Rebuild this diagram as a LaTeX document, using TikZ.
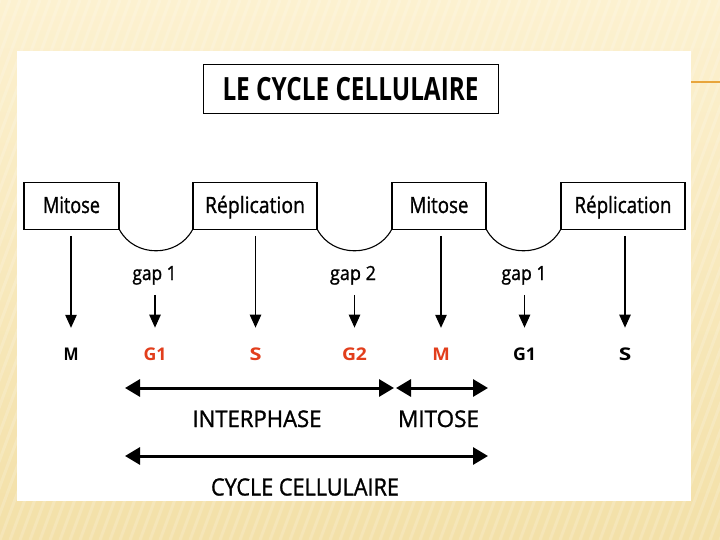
\documentclass[tikz,border=0pt]{standalone}
\usepackage{fontspec}
\setmainfont{Open Sans}
\newfontfamily\comicfont[FakeBold=1.2]{Open Sans}
\usepackage{graphicx}
\usetikzlibrary{arrows.meta}
\definecolor{bgtop}{RGB}{252,241,208}
\definecolor{bgbot}{RGB}{243,224,168}
\definecolor{phase}{RGB}{226,62,28}
\definecolor{accent}{RGB}{232,165,60}
\newcommand\fw[2]{\resizebox{#1pt}{\height}{#2}}
\begin{document}
\begin{tikzpicture}[x=1pt,y=-1pt,
  titlebox/.style={draw,line width=1pt,inner sep=0pt,minimum width=295pt,minimum height=49pt,
    text height=23pt,text depth=0pt,font=\fontsize{32}{32}\selectfont\bfseries},
  cellbox/.style={draw,line width=1.1pt,inner sep=0pt,minimum height=47pt,
    text height=16.5pt,text depth=2pt,font=\comicfont\fontsize{22.4}{22.4}\selectfont},
  gaplab/.style={inner sep=0pt,anchor=base,font=\comicfont\fontsize{19.5}{19.5}\selectfont},
  phaselab/.style={inner sep=0pt,anchor=base,font=\fontsize{17.5}{17.5}\selectfont\bfseries},
  redlab/.style={phaselab,text=phase},
  spanlab/.style={inner sep=0pt,anchor=base,font=\comicfont\fontsize{23}{23}\selectfont},
  dip/.style={line width=1.1pt},
  varrow/.style={line width=1.1pt,-{Triangle[width=11.5pt,length=13pt]},shorten >=19.5pt},
  harrow/.style={line width=3pt,{Triangle[width=17pt,length=15pt]}-{Triangle[width=17pt,length=15pt]}}
]
\useasboundingbox (0,0) rectangle (720,540);
% background
\shade[top color=bgtop,bottom color=bgbot] (0,0) rectangle (720,540);
\begin{scope}
  \clip (0,0) rectangle (720,540);
  \foreach \i in {-300,-290,...,720}
    \draw[white,opacity=0.18,line width=3pt] (\i,540) -- (\i+200,0);
\end{scope}
\fill[white] (17,51) rectangle (691,501);
\draw[accent,line width=2pt] (691,82.5) -- (720,82.5);

% title
\node[titlebox] (title) at (350.5,89.5) {\fw{256}{LE CYCLE CELLULAIRE}};

% top boxes
\node[cellbox,minimum width=95pt] (m1) at (71.5,205.75) {\fw{57}{Mitose}};
\node[cellbox,minimum width=124pt] (r1) at (255,205.75) {\fw{100}{Réplication}};
\node[cellbox,minimum width=94pt] (m2) at (439,205.75) {\fw{59}{Mitose}};
\node[cellbox,minimum width=124pt] (r2) at (623,205.75) {\fw{97}{Réplication}};

\draw[dip] (m1.south east) .. controls +(15,28) and +(-15,28) .. (r1.south west);
\draw[dip] (r1.south east) .. controls +(15,28) and +(-15,28) .. (m2.south west);
\draw[dip] (m2.south east) .. controls +(15,28) and +(-15,28) .. (r2.south west);

% gap labels
\node[gaplab] (gap1) at (154.5,280) {\fw{44}{gap 1}};
\node[gaplab] (gap2) at (353,280) {\fw{46}{gap 2}};
\node[gaplab] (gap3) at (524,280) {\fw{45}{gap 1}};

% phase labels
\node[phaselab] (pM1) at (71,360) {\fw{15}{M}};
\node[redlab]   (pG1) at (155,360) {\fw{23}{G1}};
\node[redlab]   (pS1) at (255.5,360) {\fw{12}{S}};
\node[redlab]   (pG2) at (354.5,360) {\fw{25}{G2}};
\node[redlab]   (pM2) at (441,360) {\fw{17.5}{M}};
\node[phaselab] (pG3) at (524.5,360) {\fw{23}{G1}};
\node[phaselab] (pS2) at (625,360) {\fw{12.5}{S}};

% vertical arrows
\draw[varrow,shorten <=6pt] (pM1 |- m1.south) -- (pM1.north);
\draw[varrow,shorten <=6pt] (pS1 |- r1.south) -- (pS1.north);
\draw[varrow,shorten <=6pt] (pM2 |- m2.south) -- (pM2.north);
\draw[varrow,shorten <=6pt] (pS2 |- r2.south) -- (pS2.north);
\draw[varrow,shorten <=10pt] (pG1 |- gap1.south) -- (pG1.north);
\draw[varrow,shorten <=10pt] (pG2 |- gap2.south) -- (pG2.north);
\draw[varrow,shorten <=10pt] (pG3 |- gap3.south) -- (pG3.north);

% spans
\coordinate (ia) at (125,388);
\coordinate (ib) at (394,388);
\coordinate (ma) at (396,388);
\coordinate (mb) at (488,388);
\coordinate (ca) at (125,456);
\coordinate (cb) at (488,456);
\draw[harrow] (ia) -- (ib);
\draw[harrow] (ma) -- (mb);
\draw[harrow] (ca) -- (cb);
\node[spanlab] (inter) at (257,427) {\fw{129}{INTERPHASE}};
\node[spanlab] (mit) at (438.5,427) {\fw{81}{MITOSE}};
\node[spanlab,font=\comicfont\fontsize{23.8}{23.8}\selectfont] (cyc) at (305,495.5) {\fw{188}{CYCLE CELLULAIRE}};
\end{tikzpicture}
\end{document}
